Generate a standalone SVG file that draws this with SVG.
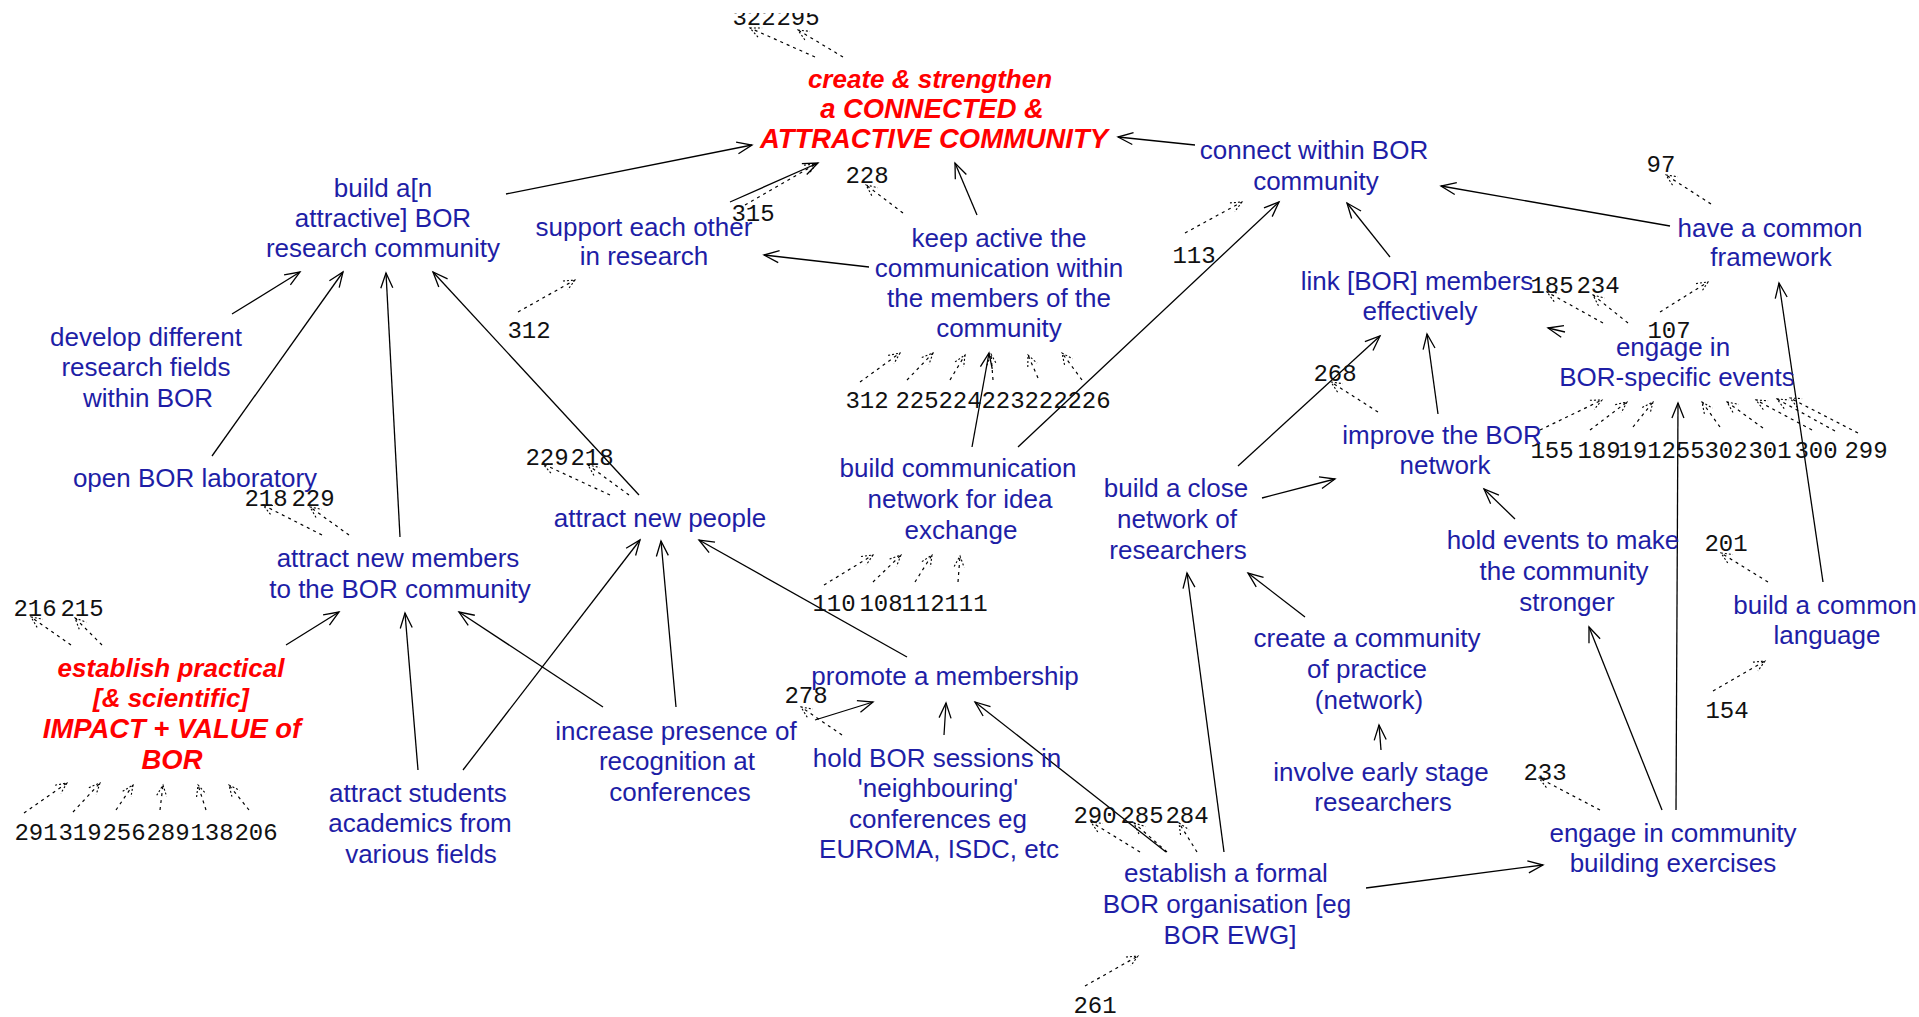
<svg xmlns="http://www.w3.org/2000/svg" width="1919" height="1017" viewBox="0 0 1919 1017">
<style>
.n{font-family:"Liberation Sans",Arial,sans-serif;font-size:26px;fill:#1e1ea6;text-anchor:middle}
.r{font-family:"Liberation Sans",Arial,sans-serif;font-size:26px;fill:#ff0000;font-weight:bold;font-style:italic;text-anchor:middle}
.cap{font-size:27.4px}
.num{font-family:"Liberation Mono","DejaVu Sans Mono",monospace;font-size:24px;fill:#111;text-anchor:middle}
.s{stroke:#000;stroke-width:1.3;fill:none;marker-end:url(#ah)}
.d{stroke:#000;stroke-width:1.2;fill:none;stroke-dasharray:3 4;marker-end:url(#dh)}
</style>
<defs>
<marker id="ah" markerUnits="userSpaceOnUse" orient="auto" refX="0" refY="0" markerWidth="20" markerHeight="20" overflow="visible">
<path d="M-15,-6 L0,0 L-15,6" fill="none" stroke="#000" stroke-width="1.3"/>
</marker>
<marker id="dh" markerUnits="userSpaceOnUse" orient="auto" refX="0" refY="0" markerWidth="16" markerHeight="16" overflow="visible">
<path d="M-11,-5 L0,0 L-11,5" fill="none" stroke="#000" stroke-width="1.1" stroke-dasharray="2 2"/>
</marker>
<clipPath id="topclip"><rect x="0" y="13" width="1919" height="1004"/></clipPath>
</defs>
<rect x="0" y="0" width="1919" height="1017" fill="#fff"/>

<g id="connectors">
<path class="s" d="M506,194 L752,145"/>
<path class="s" d="M730,202 L818,163"/>
<path class="s" d="M977,215 L955,163"/>
<path class="s" d="M869,267 L764,255"/>
<path class="s" d="M1195,145 L1118,137"/>
<path class="s" d="M1018,447 L1279,202"/>
<path class="s" d="M972,447 L989,353"/>
<path class="s" d="M1670,226 L1441,186"/>
<path class="s" d="M1390,257 L1347,203"/>
<path class="s" d="M1438,414 L1427,334"/>
<path class="s" d="M1238,466 L1380,336"/>
<path class="s" d="M1262,498 L1335,479"/>
<path class="s" d="M1515,519 L1484,489"/>
<path class="s" d="M1565,332 L1548,328"/>
<path class="s" d="M1676,810 L1678,403"/>
<path class="s" d="M1662,810 L1589,627"/>
<path class="s" d="M1823,582 L1779,283"/>
<path class="s" d="M1366,888 L1543,865"/>
<path class="s" d="M1224,852 L1187,573"/>
<path class="s" d="M1166,852 L975,702"/>
<path class="s" d="M944,735 L946,703"/>
<path class="s" d="M815,720 L873,702"/>
<path class="s" d="M603,707 L459,612"/>
<path class="s" d="M676,707 L661,541"/>
<path class="s" d="M907,657 L699,540"/>
<path class="s" d="M418,770 L405,613"/>
<path class="s" d="M463,770 L640,540"/>
<path class="s" d="M286,645 L339,612"/>
<path class="s" d="M400,537 L386,273"/>
<path class="s" d="M212,456 L343,272"/>
<path class="s" d="M232,314 L300,272"/>
<path class="s" d="M639,495 L433,272"/>
<path class="s" d="M1381,750 L1379,725"/>
<path class="s" d="M1305,617 L1248,573"/>

<path class="d" d="M815,57 L750,28"/>
<path class="d" d="M843,57 L798,30"/>
<path class="d" d="M745,205 L816,164"/>
<path class="d" d="M903,213 L866,185"/>
<path class="d" d="M1185,233 L1242,202"/>
<path class="d" d="M518,312 L575,280"/>
<path class="d" d="M1711,204 L1666,175"/>
<path class="d" d="M1603,323 L1547,292"/>
<path class="d" d="M1628,323 L1593,295"/>
<path class="d" d="M1660,312 L1708,282"/>
<path class="d" d="M1378,412 L1331,382"/>
<path class="d" d="M1540,430 L1602,400"/>
<path class="d" d="M1590,430 L1627,402"/>
<path class="d" d="M1633,427 L1653,402"/>
<path class="d" d="M1720,427 L1702,402"/>
<path class="d" d="M1763,428 L1727,402"/>
<path class="d" d="M1812,430 L1756,400"/>
<path class="d" d="M1835,431 L1777,399"/>
<path class="d" d="M1858,433 L1790,398"/>
<path class="d" d="M860,382 L900,353"/>
<path class="d" d="M907,380 L933,353"/>
<path class="d" d="M950,380 L965,355"/>
<path class="d" d="M993,380 L991,354"/>
<path class="d" d="M1038,378 L1028,355"/>
<path class="d" d="M1082,380 L1062,353"/>
<path class="d" d="M824,585 L873,555"/>
<path class="d" d="M873,582 L901,555"/>
<path class="d" d="M915,582 L932,555"/>
<path class="d" d="M958,582 L960,556"/>
<path class="d" d="M610,495 L543,464"/>
<path class="d" d="M629,495 L588,465"/>
<path class="d" d="M322,535 L263,505"/>
<path class="d" d="M349,535 L310,507"/>
<path class="d" d="M71,645 L31,617"/>
<path class="d" d="M102,645 L75,618"/>
<path class="d" d="M24,813 L67,783"/>
<path class="d" d="M73,812 L100,783"/>
<path class="d" d="M116,810 L133,785"/>
<path class="d" d="M160,810 L163,785"/>
<path class="d" d="M206,810 L198,785"/>
<path class="d" d="M249,810 L229,785"/>
<path class="d" d="M842,735 L801,707"/>
<path class="d" d="M1140,852 L1091,822"/>
<path class="d" d="M1167,852 L1134,823"/>
<path class="d" d="M1197,852 L1179,823"/>
<path class="d" d="M1085,986 L1138,956"/>
<path class="d" d="M1600,810 L1539,778"/>
<path class="d" d="M1768,582 L1721,553"/>
<path class="d" d="M1713,691 L1765,661"/>
</g>

<g id="labels">
<g clip-path="url(#topclip)"><text class="num" x="754" y="25">322</text><text class="num" x="798" y="25">295</text></g>
<text class="num" x="753" y="221">315</text>
<text class="num" x="867" y="183">228</text>
<text class="num" x="1194" y="263">113</text>
<text class="num" x="529" y="338">312</text>
<text class="num" x="1661" y="172">97</text>
<text class="num" x="1552" y="293">185</text>
<text class="num" x="1598" y="293">234</text>
<text class="num" x="1669" y="338">107</text>
<text class="num" x="1335" y="381">268</text>
<text class="num" x="1552" y="458">155</text>
<text class="num" x="1599" y="458">189</text>
<text class="num" x="1640" y="458">191</text>
<text class="num" x="1683" y="458">255</text>
<text class="num" x="1726" y="458">302</text>
<text class="num" x="1770" y="458">301</text>
<text class="num" x="1816" y="458">300</text>
<text class="num" x="1866" y="458">299</text>
<text class="num" x="867" y="408">312</text>
<text class="num" x="917" y="408">225</text>
<text class="num" x="960" y="408">224</text>
<text class="num" x="1003" y="408">223</text>
<text class="num" x="1046" y="408">222</text>
<text class="num" x="1089" y="408">226</text>
<text class="num" x="834" y="611">110</text>
<text class="num" x="881" y="611">108</text>
<text class="num" x="923" y="611">112</text>
<text class="num" x="966" y="611">111</text>
<text class="num" x="547" y="465">229</text>
<text class="num" x="592" y="465">218</text>
<text class="num" x="266" y="506">218</text>
<text class="num" x="313" y="506">229</text>
<text class="num" x="35" y="616">216</text>
<text class="num" x="82" y="616">215</text>
<text class="num" x="36" y="840">291</text>
<text class="num" x="80" y="840">319</text>
<text class="num" x="124" y="840">256</text>
<text class="num" x="168" y="840">289</text>
<text class="num" x="212" y="840">138</text>
<text class="num" x="256" y="840">206</text>
<text class="num" x="806" y="703">278</text>
<text class="num" x="1095" y="823">290</text>
<text class="num" x="1142" y="823">285</text>
<text class="num" x="1187" y="823">284</text>
<text class="num" x="1095" y="1013">261</text>
<text class="num" x="1545" y="780">233</text>
<text class="num" x="1726" y="551">201</text>
<text class="num" x="1727" y="718">154</text>
</g>

<g id="n-connected"><text class="r"><tspan x="930" y="88">create &amp; strengthen</tspan><tspan class="cap" x="932" y="118">a CONNECTED &amp;</tspan><tspan class="cap" x="934" y="148">ATTRACTIVE COMMUNITY</tspan></text></g>
<g id="n-build-research"><text class="n"><tspan x="383" y="197">build a[n</tspan><tspan x="383" y="227">attractive] BOR</tspan><tspan x="383" y="257">research community</tspan></text></g>
<g id="n-support"><text class="n"><tspan x="644" y="236">support each other</tspan><tspan x="644" y="265">in research</tspan></text></g>
<g id="n-keep-active"><text class="n"><tspan x="999" y="247">keep active the</tspan><tspan x="999" y="277">communication within</tspan><tspan x="999" y="307">the members of the</tspan><tspan x="999" y="337">community</tspan></text></g>
<g id="n-connect-within"><text class="n"><tspan x="1314" y="159">connect within BOR</tspan><tspan x="1316" y="190">community</tspan></text></g>
<g id="n-framework"><text class="n"><tspan x="1770" y="237">have a common</tspan><tspan x="1771" y="266">framework</tspan></text></g>
<g id="n-link"><text class="n"><tspan x="1417" y="290">link [BOR] members</tspan><tspan x="1420" y="320">effectively</tspan></text></g>
<g id="n-bor-events"><text class="n"><tspan x="1673" y="356">engage in</tspan><tspan x="1677" y="386">BOR-specific events</tspan></text></g>
<g id="n-develop"><text class="n"><tspan x="146" y="346">develop different</tspan><tspan x="146" y="376">research fields</tspan><tspan x="148" y="407">within BOR</tspan></text></g>
<g id="n-lab"><text class="n"><tspan x="195" y="487">open BOR laboratory</tspan></text></g>
<g id="n-new-members"><text class="n"><tspan x="398" y="567">attract new members</tspan><tspan x="400" y="598">to the BOR community</tspan></text></g>
<g id="n-new-people"><text class="n"><tspan x="660" y="527">attract new people</tspan></text></g>
<g id="n-comm-network"><text class="n"><tspan x="958" y="477">build communication</tspan><tspan x="960" y="508">network for idea</tspan><tspan x="961" y="539">exchange</tspan></text></g>
<g id="n-close-network"><text class="n"><tspan x="1176" y="497">build a close</tspan><tspan x="1177" y="528">network of</tspan><tspan x="1178" y="559">researchers</tspan></text></g>
<g id="n-improve"><text class="n"><tspan x="1442" y="444">improve the BOR</tspan><tspan x="1445" y="474">network</tspan></text></g>
<g id="n-hold-events"><text class="n"><tspan x="1563" y="549">hold events to make</tspan><tspan x="1564" y="580">the community</tspan><tspan x="1567" y="611">stronger</tspan></text></g>
<g id="n-language"><text class="n"><tspan x="1825" y="614">build a common</tspan><tspan x="1827" y="644">language</tspan></text></g>
<g id="n-practice"><text class="n"><tspan x="1367" y="647">create a community</tspan><tspan x="1367" y="678">of practice</tspan><tspan x="1369" y="709">(network)</tspan></text></g>
<g id="n-early-stage"><text class="n"><tspan x="1381" y="781">involve early stage</tspan><tspan x="1383" y="811">researchers</tspan></text></g>
<g id="n-exercises"><text class="n"><tspan x="1673" y="842">engage in community</tspan><tspan x="1673" y="872">building exercises</tspan></text></g>
<g id="n-formal-org"><text class="n"><tspan x="1226" y="882">establish a formal</tspan><tspan x="1227" y="913">BOR organisation [eg</tspan><tspan x="1230" y="944">BOR EWG]</tspan></text></g>
<g id="n-membership"><text class="n"><tspan x="945" y="685">promote a membership</tspan></text></g>
<g id="n-sessions"><text class="n"><tspan x="937" y="767">hold BOR sessions in</tspan><tspan x="938" y="797">'neighbouring'</tspan><tspan x="938" y="828">conferences eg</tspan><tspan x="939" y="858">EUROMA, ISDC, etc</tspan></text></g>
<g id="n-presence"><text class="n"><tspan x="676" y="740">increase presence of</tspan><tspan x="677" y="770">recognition at</tspan><tspan x="680" y="801">conferences</tspan></text></g>
<g id="n-students"><text class="n"><tspan x="418" y="802">attract students</tspan><tspan x="420" y="832">academics from</tspan><tspan x="421" y="863">various fields</tspan></text></g>
<g id="n-impact"><text class="r"><tspan x="171" y="677">establish practical</tspan><tspan x="171" y="707">[&amp; scientific]</tspan><tspan class="cap" x="172" y="738">IMPACT + VALUE of</tspan><tspan class="cap" x="172" y="769">BOR</tspan></text></g>
</svg>
